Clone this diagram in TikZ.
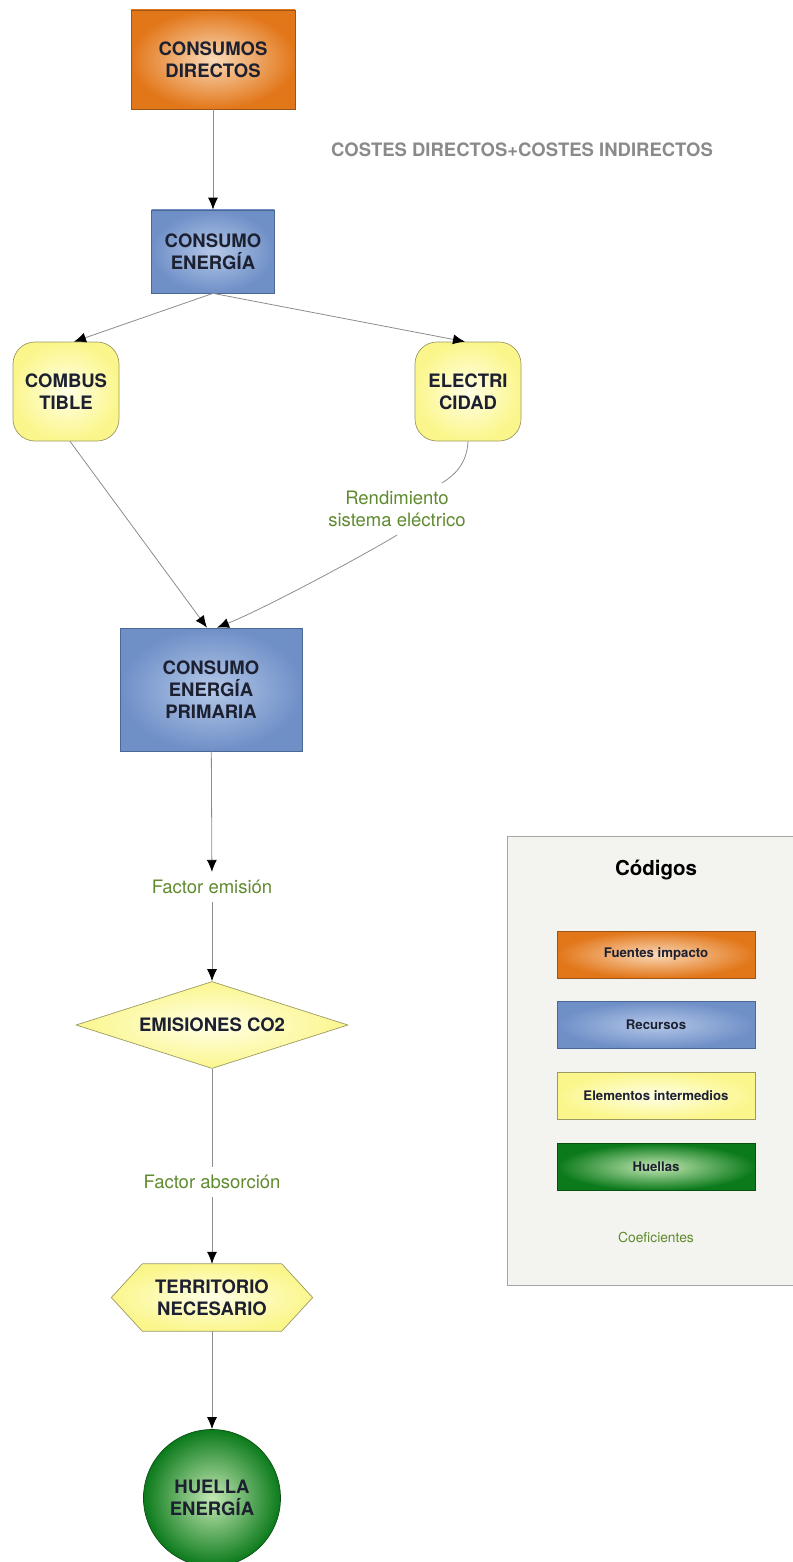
\documentclass[tikz,border=0pt]{standalone}
\usepackage{fontspec}
\setmainfont{TeX Gyre Heros}
\usetikzlibrary{shapes.geometric,arrows.meta}

\definecolor{orangeout}{HTML}{E2771A}
\definecolor{orangein}{HTML}{FAD9B8}
\definecolor{orangeline}{HTML}{9C5418}
\definecolor{blueout}{HTML}{6F8FC7}
\definecolor{bluein}{HTML}{B4C8E8}
\definecolor{blueline}{HTML}{4B6796}
\definecolor{yellowout}{HTML}{FBF68C}
\definecolor{yellowin}{HTML}{FFFFE6}
\definecolor{yellowline}{HTML}{9C9A62}
\definecolor{greenout}{HTML}{0B7A1B}
\definecolor{greenin}{HTML}{C4E8B4}
\definecolor{greenline}{HTML}{0A4F12}
\definecolor{coefgreen}{HTML}{5F8A2E}
\definecolor{linegray}{HTML}{8C8C8C}
\definecolor{costgray}{HTML}{8A8A8A}
\definecolor{textdark}{HTML}{1C2030}
\definecolor{panelfill}{HTML}{F3F3EF}
\definecolor{panelline}{HTML}{A6A6A6}

\begin{document}
\begin{tikzpicture}[x=1pt,y=-1pt]
    \tikzstyle{box}=[draw, line width=0.7pt, font=\fontsize{18.5}{22}\selectfont\bfseries, text=textdark, align=center, inner sep=0pt]
    \tikzstyle{fuente}=[box, rectangle, draw=orangeline, inner color=orangein, outer color=orangeout]
    \tikzstyle{recurso}=[box, rectangle, draw=blueline, inner color=bluein, outer color=blueout]
    \tikzstyle{intermedio}=[box, draw=yellowline, inner color=yellowin, outer color=yellowout]
    \tikzstyle{huella}=[box, draw=greenline, inner color=greenin, outer color=greenout]
    \tikzstyle{coef}=[text=coefgreen, font=\fontsize{18.5}{22}\selectfont, align=center, inner xsep=4pt, inner ysep=8pt]
    \tikzstyle{ley}=[rectangle, minimum width=198pt, minimum height=47pt, font=\fontsize{13.2}{16}\selectfont\bfseries]
    \tikzstyle{flow}=[draw=linegray, line width=0.8pt, -{Latex[length=12pt, width=10pt, color=black]}]
    \tikzstyle{link}=[draw=linegray, line width=0.8pt]

    \path[use as bounding box] (0,0) rectangle (792,1562);

    % diagrama
    \node[fuente, minimum width=164pt, minimum height=99pt] (directos) at (213,59.5) {CONSUMOS\\DIRECTOS};
    \node[font=\fontsize{18.5}{22}\selectfont\bfseries, text=costgray] (costes) at (522,150) {COSTES DIRECTOS+COSTES INDIRECTOS};
    \node[recurso, minimum width=123pt, minimum height=83pt] (energia) at (213,251.5) {CONSUMO\\ENERGÍA};
    \node[intermedio, rectangle, rounded corners=22pt, minimum width=106pt, minimum height=99pt] (combus) at (66,391.5) {COMBUS\\TIBLE};
    \node[intermedio, rectangle, rounded corners=22pt, minimum width=106pt, minimum height=99pt] (electri) at (468,391.5) {ELECTRI\\CIDAD};
    \node[coef] (rend) at (397,509) {Rendimiento\\sistema eléctrico};
    \node[recurso, minimum width=182pt, minimum height=123pt] (primaria) at (211,689.5) {CONSUMO\\ENERGÍA\\PRIMARIA};
    \node[coef] (emision) at (212,887) {Factor emisión};
    \node[intermedio, diamond, aspect=3.13, minimum width=272pt, minimum height=87pt] (co2) at (212,1025) {EMISIONES CO2};
    \node[coef] (absorcion) at (212,1182) {Factor absorción};
    % hexagono dibujado a mano
    \node[minimum width=201pt, minimum height=67pt, inner sep=0pt] (territorio) at (212,1297.5) {};
    \path[draw=yellowline, line width=0.7pt, inner color=yellowin, outer color=yellowout]
        (territorio.west) -- ([xshift=31pt]territorio.north west) -- ([xshift=-31pt]territorio.north east)
        -- (territorio.east) -- ([xshift=-31pt]territorio.south east) -- ([xshift=31pt]territorio.south west) -- cycle;
    \node[box, draw=none] (territoriotxt) at (territorio) {TERRITORIO\\NECESARIO};
    \node[huella, circle, minimum size=137pt] (huellaen) at (212,1498) {HUELLA\\ENERGÍA};

    \draw[flow] (directos) -- (energia);
    \draw[flow] (energia.south) -- ([xshift=8pt]combus.north);
    \draw[flow] (energia.south) -- ([xshift=-3pt]electri.north);
    \draw[flow] ([xshift=4pt]combus.south) -- ([xshift=-4pt]primaria.north);
    \draw[link] (electri.south) .. controls +(-1,22) and +(13,-8) .. ([xshift=45pt]rend.north);
    \draw[flow] (rend.south) .. controls +(-40,24) and +(45,-18) .. ([xshift=6pt]primaria.north);
    \draw[flow] (primaria) -- (emision);
    \draw[flow] (emision) -- (co2);
    \draw[link] (co2) -- (absorcion);
    \draw[flow] (absorcion) -- (territorio);
    \draw[flow] (territorio) -- (huellaen);

    % leyenda
    \node[draw=panelline, fill=panelfill, line width=0.8pt, minimum width=290pt, minimum height=449pt] (codigos) at (652,1060.5) {};
    \node[font=\fontsize{20.5}{24}\selectfont\bfseries, text=black] (titulo) at (656,870) {Códigos};
    \node[fuente, ley] (leyfuente) at (656,954.5) {Fuentes impacto};
    \node[recurso, ley] (leyrecurso) at (656,1025) {Recursos};
    \node[intermedio, ley] (leyinter) at (656,1096) {Elementos intermedios};
    \node[huella, ley] (leyhuella) at (656,1167) {Huellas};
    \node[coef, font=\fontsize{13.8}{16}\selectfont] (leycoef) at (656,1237) {Coeficientes};
\end{tikzpicture}
\end{document}
